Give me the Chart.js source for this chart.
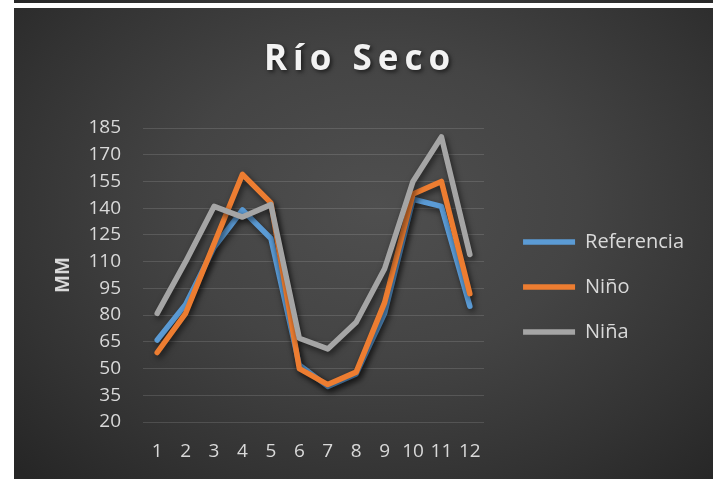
<!DOCTYPE html>
<html>
<head>
<meta charset="utf-8">
<script src="https://cdn.jsdelivr.net/npm/chart.js@4"></script>
<style>
  html, body { margin: 0; padding: 0; background: #ffffff; width: 719px; height: 479px; overflow: hidden; }
  #strip { position: absolute; left: 14px; top: 0; width: 699px; height: 3px;
    background: linear-gradient(90deg, #272727 0%, #3a3a3a 40%, #3d3d3d 60%, #282828 100%); }
  #wrap { position: absolute; left: 14px; top: 8px; width: 699px; height: 471px;
    background: radial-gradient(ellipse 72% 80% at 52% 42%, #4f4f4f 0%, #444444 40%, #333333 75%, #262626 100%); }
  canvas { display: block; }
</style>
</head>
<body>
<div id="strip"></div>
<div id="wrap"><canvas id="c" width="699" height="471"></canvas></div>
<script>
const categories = ['1','2','3','4','5','6','7','8','9','10','11','12'];
const referencia = [66, 86, 118, 139, 123, 52, 40, 47, 81, 145, 141, 85];
const nino       = [59, 81, 120, 159, 143, 50, 41, 48, 87, 148, 155, 92];
const nina       = [81, 110, 141, 135, 142, 67, 61, 76, 106, 155, 180, 114];
const seriesNames = ['Referencia', 'Niño', 'Niña'];
const yMin = 20, yMax = 185, yStep = 15;

const FONT = "'Open Sans', 'DejaVu Sans', sans-serif";

const shadowPlugin = {
  id: 'lineShadow',
  beforeDatasetDraw(chart) {
    const ctx = chart.ctx;
    ctx.save();
    ctx.shadowColor = 'rgba(0,0,0,0.6)';
    ctx.shadowBlur = 6;
    ctx.shadowOffsetX = 2;
    ctx.shadowOffsetY = 3;
  },
  afterDatasetDraw(chart) { chart.ctx.restore(); }
};

const titleStylePlugin = {
  id: 'titleStyle',
  beforeDraw(chart) {
    const t = chart.titleBlock;
    if (t && !t._patched) {
      const orig = t.draw.bind(t);
      t.draw = function (area) {
        const c = this.ctx;
        c.save();
        try { c.letterSpacing = '6px'; } catch (e) {}
        c.shadowColor = 'rgba(0,0,0,0.6)';
        c.shadowBlur = 4;
        c.shadowOffsetX = 2;
        c.shadowOffsetY = 2;
        orig(area);
        c.restore();
      };
      t._patched = true;
    }
  }
};

function ds(label, data, color, order) {
  return {
    label, data,
    borderColor: color, backgroundColor: color,
    borderWidth: 5.5, borderCapStyle: 'round', borderJoinStyle: 'round',
    pointRadius: 0, pointHoverRadius: 0, tension: 0, fill: false,
    order
  };
}

new Chart(document.getElementById('c'), {
  type: 'line',
  data: {
    labels: categories,
    datasets: [
      ds(seriesNames[0], referencia, '#5B9BD5', 3),
      ds(seriesNames[1], nino, '#ED7D31', 2),
      ds(seriesNames[2], nina, '#A5A5A5', 1)
    ]
  },
  options: {
    responsive: false,
    animation: false,
    devicePixelRatio: 1,
    layout: { padding: { left: 12, right: 19, top: 0, bottom: 16 } },
    plugins: {
      tooltip: { enabled: false },
      title: {
        display: true,
        text: 'Río Seco',
        color: '#f2f2f2',
        font: { family: FONT, size: 35, weight: 'bold' },
        padding: { top: 31, bottom: 47 }
      },
      legend: {
        position: 'right',
        align: 'center',
        maxWidth: 300,
        title: { display: true, text: ' ', font: { size: 10, lineHeight: 1 }, padding: { top: 93, bottom: 0 } },
        labels: {
          usePointStyle: true,
          pointStyle: 'line',
          pointStyleWidth: 52,
          color: '#d9d9d9',
          font: { family: FONT, size: 20 },
          padding: 25,
          sort: (a, b) => a.datasetIndex - b.datasetIndex
        }
      }
    },
    scales: {
      x: {
        type: 'category',
        offset: true,
        grid: { display: false, drawTicks: false },
        border: { display: false },
        ticks: { color: '#d9d9d9', font: { family: FONT, size: 19 }, padding: 18, autoSkip: false, maxRotation: 0 },
        afterFit(s) { s.height = 41; }
      },
      y: {
        min: yMin, max: yMax,
        grid: { color: 'rgba(255,255,255,0.13)', lineWidth: 1, drawTicks: false },
        border: { display: false },
        ticks: { stepSize: yStep, color: '#d9d9d9', font: { family: FONT, size: 19 }, padding: 22 },
        title: { display: true, text: 'MM', color: '#d9d9d9', font: { family: FONT, size: 19, weight: 'bold' }, padding: { top: 26, bottom: 0 } },
        afterFit(s) { s.width = 117; }
      },
      gap: {
        type: 'linear',
        position: 'right',
        display: true,
        grid: { display: false, drawTicks: false },
        border: { display: false },
        ticks: { display: false },
        afterFit(s) { s.width = 14; }
      }
    }
  },
  plugins: [shadowPlugin, titleStylePlugin]
});
</script>
</body>
</html>
